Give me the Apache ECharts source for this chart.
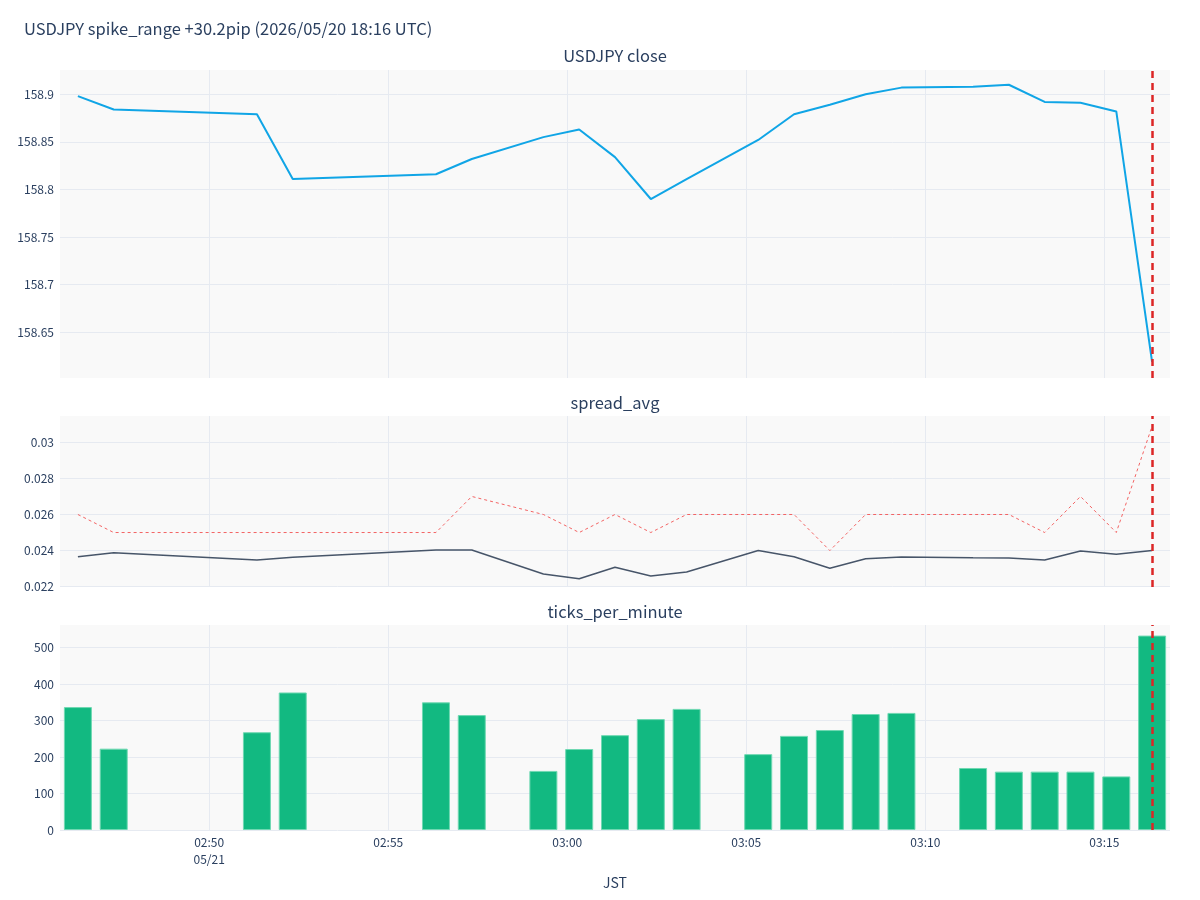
<!DOCTYPE html>
<html>
<head>
<meta charset="utf-8">
<title>USDJPY spike_range</title>
<script src="https://cdn.jsdelivr.net/npm/echarts@6/dist/echarts.min.js"></script>
<style>
html, body { margin: 0; padding: 0; background: #fff; }
#main { width: 1200px; height: 900px; }
</style>
</head>
<body>
<div id="main"></div>
<script>
// JST times of each minute bucket
var times = ['02:46:20', '02:47:20', '02:51:20', '02:52:20', '02:56:20', '02:57:20',
    '02:59:20', '03:00:20', '03:01:20', '03:02:20', '03:03:20', '03:05:20',
    '03:06:20', '03:07:20', '03:08:20', '03:09:20', '03:11:20', '03:12:20',
    '03:13:20', '03:14:20', '03:15:20', '03:16:20'];
var closeVals = [158.898, 158.884, 158.879, 158.811, 158.816, 158.832,
    158.855, 158.863, 158.834, 158.790, 158.811, 158.852,
    158.879, 158.889, 158.900, 158.907, 158.908, 158.910,
    158.892, 158.891, 158.882, 158.619];
var spreadAvg = [0.02366, 0.02388, 0.02348, 0.02363, 0.02403, 0.02403,
    0.0227, 0.02244, 0.02307, 0.02259, 0.02281, 0.0240,
    0.02366, 0.02302, 0.02355, 0.02365, 0.0236, 0.02359,
    0.02348, 0.02398, 0.0238, 0.0240];
var spreadMax = [0.026, 0.025, 0.025, 0.025, 0.025, 0.027,
    0.026, 0.025, 0.026, 0.025, 0.026, 0.026,
    0.026, 0.024, 0.026, 0.026, 0.026, 0.026,
    0.025, 0.027, 0.025, 0.0309];
var ticksPerMin = [337, 223, 268, 377, 350, 315,
    162, 222, 260, 304, 332, 208,
    258, 274, 318, 321, 170, 160,
    160, 160, 147, 533];

var xTickTimes = ['02:50:00', '02:55:00', '03:00:00', '03:05:00', '03:10:00', '03:15:00'];
var xTickLabels = ['02:50\n05/21', '02:55', '03:00', '03:05', '03:10', '03:15'];
var closeTicks = [158.65, 158.7, 158.75, 158.8, 158.85, 158.9];
var spreadTicks = [0.022, 0.024, 0.026, 0.028, 0.03];
var countTicks = [0, 100, 200, 300, 400, 500];
var eventTime = '03:16:20';

function toMin(s) {
    var p = s.split(':');
    return +p[0] * 60 + +p[1] + (+p[2] || 0) / 60;
}

var xs = times.map(toMin);
var xTickVals = xTickTimes.map(toMin);
var eventX = toMin(eventTime);

function pairs(vals) {
    return vals.map(function (v, i) { return [xs[i], v]; });
}

var FONT = '"Noto Sans CJK JP", "Noto Sans", sans-serif';
var TXT = '#2a3f5f';
var GRIDC = '#e6eaf1';

function xAxisFor(idx, showLabel) {
    return {
        type: 'value',
        gridIndex: idx,
        min: toMin('02:45:50'),
        max: toMin('03:16:50'),
        axisLine: { show: false },
        axisTick: { show: false, customValues: xTickVals },
        splitLine: { show: true, lineStyle: { color: GRIDC, width: 1 } },
        axisLabel: {
            show: showLabel,
            customValues: xTickVals,
            color: TXT,
            fontSize: 12,
            fontFamily: FONT,
            lineHeight: 17,
            margin: 4,
            formatter: function (v) {
                for (var i = 0; i < xTickVals.length; i++) {
                    if (Math.abs(xTickVals[i] - v) < 1e-6) return xTickLabels[i];
                }
                return '';
            }
        },
        name: showLabel ? 'JST' : '',
        nameLocation: 'middle',
        nameGap: 46,
        nameTextStyle: { color: TXT, fontSize: 14, fontFamily: FONT }
    };
}

function yAxisFor(idx, min, max, ticks, digits) {
    return {
        type: 'value',
        gridIndex: idx,
        min: min,
        max: max,
        axisLine: { show: false },
        axisTick: { show: false, customValues: ticks },
        splitLine: { show: true, lineStyle: { color: GRIDC, width: 1 } },
        axisLabel: {
            customValues: ticks,
            color: TXT,
            fontSize: 12,
            fontFamily: FONT,
            margin: 6,
            formatter: function (v) { return String(+(+v).toFixed(digits)); }
        }
    };
}

var eventLine = {
    silent: true,
    symbol: ['none', 'none'],
    label: { show: false },
    lineStyle: { color: '#dc2626', type: [7, 5], width: 2.5 },
    data: [{ xAxis: eventX }],
    animation: false
};

var titleStyle = { color: TXT, fontSize: 16.5, fontWeight: 'normal', fontFamily: FONT };

var myChart = echarts.init(document.getElementById('main'));
var option = {
    animation: false,
    backgroundColor: '#ffffff',
    title: [
        { text: 'USDJPY spike_range +30.2pip (2026/05/20 18:16 UTC)', left: 24, top: 20, padding: 0,
          textStyle: titleStyle },
        { text: 'USDJPY close', left: 615, top: 47, padding: 0, textAlign: 'center', textStyle: titleStyle },
        { text: 'spread_avg', left: 615, top: 394, padding: 0, textAlign: 'center', textStyle: titleStyle },
        { text: 'ticks_per_minute', left: 615, top: 603, padding: 0, textAlign: 'center', textStyle: titleStyle }
    ],
    grid: [
        { left: 60, right: 30, top: 70, height: 308, show: true, backgroundColor: '#f9f9f9', borderWidth: 0 },
        { left: 60, right: 30, top: 416, height: 171, show: true, backgroundColor: '#f9f9f9', borderWidth: 0 },
        { left: 60, right: 30, top: 625, height: 205, show: true, backgroundColor: '#f9f9f9', borderWidth: 0 }
    ],
    xAxis: [xAxisFor(0, false), xAxisFor(1, false), xAxisFor(2, true)],
    yAxis: [
        yAxisFor(0, 158.602, 158.9255, closeTicks, 2),
        yAxisFor(1, 0.02198, 0.03146, spreadTicks, 3),
        yAxisFor(2, 0, 562, countTicks, 0)
    ],
    series: [
        {
            name: 'close', type: 'line', xAxisIndex: 0, yAxisIndex: 0,
            data: pairs(closeVals), symbol: 'none',
            lineStyle: { color: '#10a5e6', width: 2 },
            markLine: eventLine
        },
        {
            name: 'spread_max', type: 'line', xAxisIndex: 1, yAxisIndex: 1,
            data: pairs(spreadMax), symbol: 'none',
            lineStyle: { color: '#f25c5c', width: 1, type: [3, 3], opacity: 0.95 },
            markLine: eventLine
        },
        {
            name: 'spread_avg', type: 'line', xAxisIndex: 1, yAxisIndex: 1,
            data: pairs(spreadAvg), symbol: 'none',
            lineStyle: { color: '#475569', width: 1.5 }
        },
        {
            name: 'ticks_per_minute', type: 'bar', xAxisIndex: 2, yAxisIndex: 2,
            data: pairs(ticksPerMin), barWidth: 28,
            itemStyle: { color: '#12b981', borderColor: '#6fd8b2', borderWidth: 1 },
            markLine: eventLine
        }
    ]
};
myChart.setOption(option);
window.onresize = function () {
    myChart.resize();
};
</script>
</body>
</html>
